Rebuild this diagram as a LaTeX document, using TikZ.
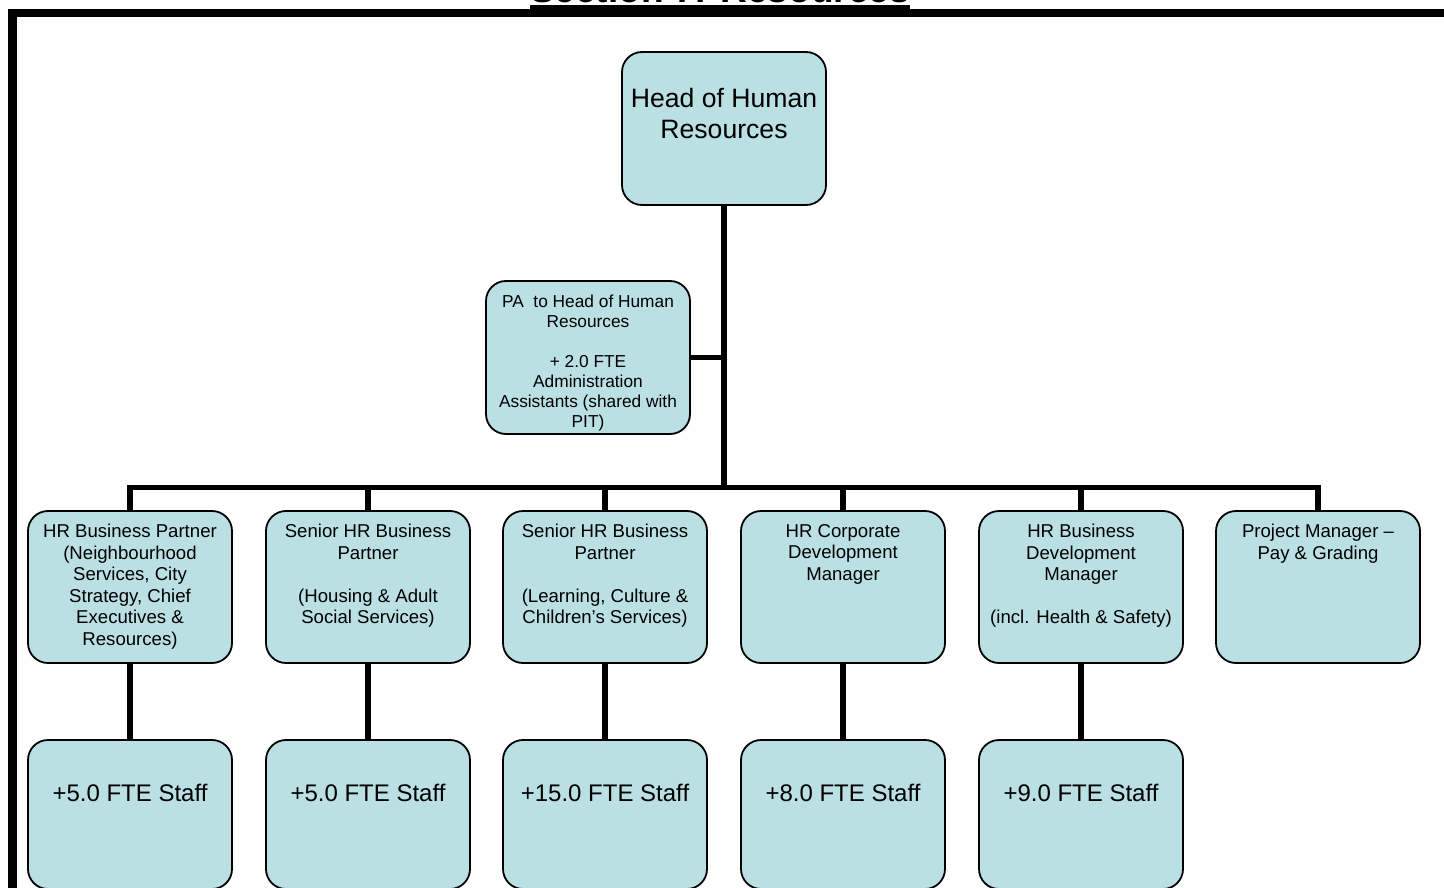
\documentclass[tikz,border=0pt]{standalone}
\usepackage{fontspec}
\setmainfont{Liberation Sans}
\definecolor{boxblue}{RGB}{186,224,228}
\begin{document}
\begin{tikzpicture}[x=1pt,y=-1pt,
  box/.style={draw=black, line width=1.8pt, fill=boxblue, rounded corners=20pt,
    minimum width=204pt, minimum height=152pt, inner sep=0pt},
  staffbox/.style={box, minimum height=149pt},
  txt/.style={inner sep=0pt, align=center, anchor=north,
    font=\fontsize{18.6}{21.5}\selectfont},
  conn/.style={line width=5.5pt, line join=miter, line cap=butt},
  frame/.style={line width=8.5pt, line join=miter}]
\useasboundingbox (0,0) rectangle (1444,888);
\clip (0,0) rectangle (1444,888);
% frame and title
\draw[frame] (12.5,900) -- (12.5,13) -- (1450,13);
\fill (530,5) rectangle (910,9.5);
\node[inner sep=0pt, anchor=base, font=\bfseries\fontsize{37}{40}\selectfont] (title) at (720,3) {Section 7: Resources};
% boxes
\node[box, minimum height=153pt] (head) at (724,128.5) {};
\node[txt, font=\fontsize{26.6}{31}\selectfont] (headt) at (724,88) {Head of Human\\Resources};
\node[box, minimum height=153pt] (pa) at (588,357.5) {};
\node[txt, font=\fontsize{17.3}{20}\selectfont] (pat) at (588,294.5) {PA~ to Head of Human\\Resources\\[20pt]+ 2.0 FTE\\Administration\\Assistants (shared with\\PIT)};
\foreach \i/\x in {1/130,2/368,3/605,4/843,5/1081,6/1318}{
  \node[box] (b\i) at (\x,587) {};
}
\node[txt] (t1) at (130,524) {HR Business Partner\\(Neighbourhood\\Services, City\\Strategy, Chief\\Executives \&\\Resources)};
\node[txt] (t2) at (368,524) {Senior HR Business\\Partner\\[21.5pt](Housing \& Adult\\Social Services)};
\node[txt] (t3) at (605,524) {Senior HR Business\\Partner\\[21.5pt](Learning, Culture \&\\Children’s Services)};
\node[txt] (t4) at (843,524) {HR Corporate\\Development\\Manager};
\node[txt] (t5) at (1081,524) {HR Business\\Development\\Manager\\[21.5pt](incl. Health \& Safety)};
\node[txt] (t6) at (1318,524) {Project Manager –\\Pay \& Grading};
\foreach \i/\x/\t in {1/130/+5.0,2/368/+5.0,3/605/+15.0,4/843/+8.0,5/1081/+9.0}{
  \node[staffbox] (s\i) at (\x,814.5) {};
  \node[txt, font=\fontsize{24}{28}\selectfont] (st\i) at (\x,783.5) {\t{} FTE Staff};
}
% connectors
\coordinate (bar) at (724,487.5);
\draw[conn] (head.south) -- (bar);
\draw[conn] (pa.east) -- (pa.east -| head.south);
\draw[conn] (b1.north) |- (bar) -| (b6.north);
\foreach \i in {2,3,4,5}{
  \draw[conn] (b\i.north) -- (b\i.north |- bar);
}
\foreach \i in {1,2,3,4,5}{
  \draw[conn] (b\i.south) -- (s\i.north);
}
\end{tikzpicture}
\end{document}
